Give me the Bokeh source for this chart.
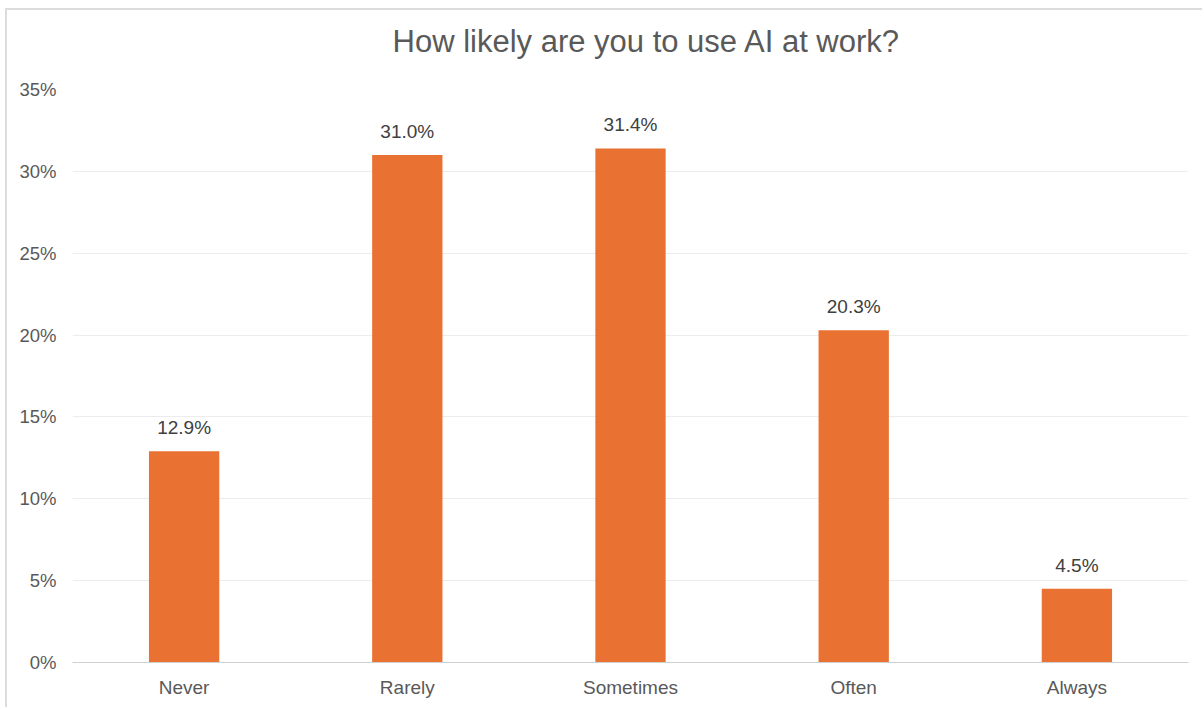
from bokeh.plotting import figure
from bokeh.models import ColumnDataSource, FactorRange, Range1d, FixedTicker, CustomJSTickFormatter, Title
from bokeh.core.properties import value
from bokeh.embed import file_html
from bokeh.resources import INLINE

categories = ["Never", "Rarely", "Sometimes", "Often", "Always"]
shares = [12.9, 31.0, 31.4, 20.3, 4.5]
labels = ["12.9%", "31.0%", "31.4%", "20.3%", "4.5%"]
y_ticks = [0, 5, 10, 15, 20, 25, 30, 35]
title_text = "How likely are you to use AI at work?"

FONT = "Liberation Sans"

src = ColumnDataSource(dict(cat=categories, val=shares, lab=labels))

p = figure(width=1197, height=699, x_range=FactorRange(*categories, range_padding=0),
           y_range=Range1d(0, 35), output_backend="svg", toolbar_location=None,
           title_location=None,
           min_border_left=65, min_border_right=16, min_border_top=78, min_border_bottom=47)
p.margin = (8, 0, 0, 5)
p.styles = {"border-top": "2px solid #dcdcdc", "border-left": "2px solid #dcdcdc"}

spacer = Title(text=" ", text_font=FONT, text_font_size="10px", standoff=2)
p.add_layout(spacer, "above")
main_title = Title(text=title_text, align="left", offset=320, vertical_align="top",
                   text_font=FONT, text_font_size="31px", text_font_style="normal",
                   text_color="#595959", standoff=27)
p.add_layout(main_title, "above")

p.vbar(x="cat", top="val", width=0.315, source=src, color="#E97132", line_color=None)
p.text(x="cat", y="val", text="lab", source=src, text_align="center", text_baseline="bottom",
       y_offset=-13, text_font=value(FONT), text_font_size="19px", text_color="#404040")

p.outline_line_color = None
p.xgrid.grid_line_color = None
p.ygrid.grid_line_color = "#ececec"
p.ygrid.grid_line_width = 1

p.yaxis.ticker = FixedTicker(ticks=y_ticks)
p.yaxis.formatter = CustomJSTickFormatter(code="return tick + '%';")
p.yaxis.axis_line_color = None
p.yaxis.major_tick_line_color = None
p.yaxis.minor_tick_line_color = None
p.yaxis.major_label_standoff = 10
p.yaxis.major_label_text_font = FONT
p.yaxis.major_label_text_font_size = "18.5px"
p.yaxis.major_label_text_color = "#595959"

p.xaxis.axis_line_color = "#d0d0d0"
p.xaxis.major_tick_line_color = None
p.xaxis.minor_tick_line_color = None
p.xaxis.major_label_standoff = 8
p.xaxis.major_label_text_font = FONT
p.xaxis.major_label_text_font_size = "19px"
p.xaxis.major_label_text_color = "#595959"

open("out.html", "w").write(file_html(p, INLINE))
